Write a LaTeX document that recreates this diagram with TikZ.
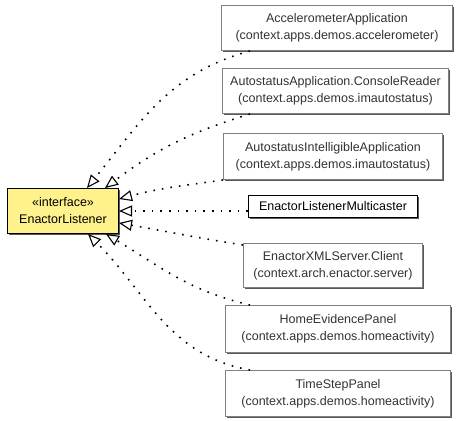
\documentclass[tikz,border=0pt]{standalone}
\usepackage{fontspec}
\setmainfont{Liberation Sans}
\usetikzlibrary{arrows.meta,shadows}
\definecolor{ifacefill}{HTML}{FFF28C}
\definecolor{boxline}{HTML}{808080}
\tikzset{
  umlbox/.style={draw=boxline, line width=1pt, fill=white, anchor=north west,
    inner sep=0pt, align=center, text=black!80,
    font=\fontsize{12.5}{17}\selectfont,
    drop shadow={shadow xshift=1.2pt, shadow yshift=-1.2pt, fill=black!65, opacity=1}},
  ifacebox/.style={umlbox, draw=black, fill=ifacefill, text=black},
  implbox/.style={umlbox, draw=black, text=black},
  realizes/.style={line width=1.6pt, dash pattern=on 1.6pt off 7pt,
    -{Triangle[length=13pt, width=11pt, fill=white, line width=1.1pt]}},
}
\begin{document}
\begin{tikzpicture}[x=1pt, y=-1pt]
  \useasboundingbox (0,0) rectangle (464,421);

  % interface
  \node[ifacebox, minimum width=111pt, minimum height=45pt] (el) at (7,188)
    {«interface»\\EnactorListener};

  % implementing classes
  \node[umlbox, minimum width=231pt, minimum height=45pt] (acc) at (221,5)
    {AccelerometerApplication\\(context.apps.demos.accelerometer)};
  \node[umlbox, minimum width=226pt, minimum height=45pt] (cons) at (222,68)
    {AutostatusApplication.ConsoleReader\\(context.apps.demos.imautostatus)};
  \node[umlbox, minimum width=219pt, minimum height=46pt] (intel) at (223,133)
    {AutostatusIntelligibleApplication\\(context.apps.demos.imautostatus)};
  \node[implbox, minimum width=169pt, minimum height=22pt] (mc) at (248,195)
    {EnactorListenerMulticaster};
  \node[umlbox, minimum width=179pt, minimum height=44pt] (xml) at (243,243)
    {EnactorXMLServer.Client\\(context.arch.enactor.server)};
  \node[umlbox, minimum width=225pt, minimum height=47pt] (hep) at (225,305)
    {HomeEvidencePanel\\(context.apps.demos.homeactivity)};
  \node[umlbox, minimum width=225pt, minimum height=46pt] (tsp) at (225,370)
    {TimeStepPanel\\(context.apps.demos.homeactivity)};

  % realization edges
  \draw[realizes] ([xshift=29pt]acc.south west) to[out=195, in=51]
    ([xshift=80pt]el.north west);
  \draw[realizes] ([xshift=28pt]cons.south west) to[out=197, in=37]
    ([xshift=98pt]el.north west);
  \draw[realizes] (intel.south west) to[out=188, in=15]
    ([yshift=-11pt]el.north east);
  \draw[realizes] (mc.west |- el.east) -- (el.east);
  \draw[realizes] ([yshift=-2pt]xml.north west) to[out=171, in=350]
    ([yshift=11pt]el.south east);
  \draw[realizes] ([xshift=25pt]hep.north west) to[out=167, in=329]
    ([xshift=99pt]el.south west);
  \draw[realizes] ([xshift=25pt]tsp.north west) to[out=170, in=315]
    ([xshift=81pt]el.south west);
\end{tikzpicture}
\end{document}
